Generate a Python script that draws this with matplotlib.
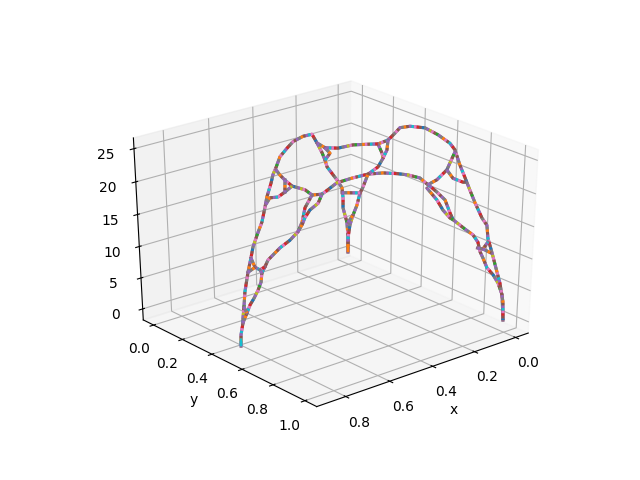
import matplotlib
matplotlib.use('Agg')
import matplotlib.pyplot as plt

# Strand values: (x, y, z)
ac_x = [.864,.862,.845,.844,.835,.825,.800,.776,.759,.728,.690,.666,.650,.618,.603,.579,.549,.495,.449,.372,.302,.263,.223,.199,.183,.101,.059,.050,.050,.016,.006,.006]
ac_y = [.499,.498,.488,.487,.482,.476,.462,.448,.438,.420,.398,.384,.375,.357,.348,.335,.317,.286,.259,.215,.174,.152,.129,.115,.106,.058,.034,.029,.029,.009,.004,.003]
ac_z = [-.1,1.7,3.3,4.0,5.6,7.8,10.4,12.2,13.6,14.9,16.3,18.1,19.5,21.1,22.1,22.9,24.0,24.5,24.8,24.5,23.8,21.9,19.8,18.3,17.0,13.7,11.8,10.0,8.4,5.5,2.7,.4]
cb1_x = [.857,.843,.833,.820,.806,.796,.793,.783,.773,.734,.703,.677,.664,.654,.632,.601,.576,.554,.507,.457,.409,.362,.330,.292,.266,.253,.237,.210,.193,.182,.142,.115,.098,.090,.080,.065,.044,.026,.011,.004]
cb1_y = [.505,.513,.519,.527,.534,.540,.542,.548,.554,.576,.594,.609,.617,.622,.635,.653,.668,.680,.707,.736,.764,.791,.809,.831,.846,.854,.863,.879,.889,.895,.918,.933,.943,.948,.954,.962,.975,.985,.994,.998]
cb1_z = [3.6,5.1,6.3,7.3,8.5,9.7,11.1,12.0,13.0,14.7,15.7,16.9,18.3,20.4,22.2,22.2,23.0,23.7,24.2,24.6,24.6,24.3,24.0,23.4,22.3,21.8,21.1,19.8,17.8,16.7,15.1,14.1,12.9,11.4,10.4,8.8,7.6,6.2,4.3,.2]
cb2_x = [.677,.664,.655,.639,.613,.601]
cb2_y = [.609,.617,.622,.631,.646,.653]
cb2_z = [16.9,17.9,18.9,20.0,20.9,22.2]
cb3_x = [.269,.236,.216,.192,.182]
cb3_y = [.845,.864,.876,.889,.895]
cb3_z = [21.8,19.9,18.3,17.0,16.7]
ab_x = [0.0]*32
ab_y = [-.005,-.005,.008,.028,.054,.074,.093,.125,.190,.222,.215,.188,.252,.296,.326,.389,.481,.561,.635,.666,.699,.732,.764,.797,.842,.873,.882,.910,.945,.965,.988,.993]
ab_z = [.2,2.6,4.9,6.7,8.6,10.8,11.9,14.3,16.1,17.8,18.5,19.7,20.9,22.4,23.5,24.3,24.9,24.6,24.0,23.3,21.3,19.7,18.1,16.5,14.6,13.8,11.9,9.9,7.2,5.7,3.0,.1]
ab2_x = [0.0,0.0,0.0]
ab2_y = [.252,.246,.222]
ab2_z = [20.9,19.3,17.8]
ab3_x = [.059,0.0]
ab3_y = [.034,.074]
ab3_z = [11.0,10.8]
ab4_x = [0.0,0.0]
ab4_y = [-.005,.028]
ab4_z = [5.2,6.7]
l1_x = [.835,.843]
l1_y = [.482,.513]
l1_z = [5.6,5.1]
l2_x = [.776,.778,.780,.783]
l2_y = [.448,.476,.511,.548]
l2_z = [12.2,11.1,11.1,12.0]
l3_x = [.800,.748]
l3_y = [.462,.432]
l3_z = [10.4,10.3]
l4_x = [.793,.799]
l4_y = [.542,.539]
l4_z = [11.1,11.6]
l5_x = [.580,.586,.593,.603,.622,.632]
l5_y = [.335,.368,.411,.469,.578,.635]
l5_z = [22.5,22.1,21.8,21.6,22.3,22.2]
l6_x = [.658,.628,.568,.518,.461]
l6_y = [.380,.362,.328,.297,.266]
l6_z = [18.5,19.0,18.2,18.1,18.2]
l7_x = [.514,.515]
l7_y = [.297,.297]
l7_z = [20.0,18.1]
l8_x = [.263,.229,.173,.109,.044,0.0]
l8_y = [.152,.157,.164,.173,.182,.188]
l8_z = [21.9,20.9,20.4,20.4,20.0,19.7]
l9_x = [.199,.159,.199]
l9_y = [.115,.092,.115]
l9_z = [20.2,18.8,18.3]
l10_x = [.266,.177,.078,.049,0.0]
l10_y = [.846,.786,.719,.700,.667]
l10_z = [22.3,21.6,21.5,22.1,23.0]
l11_x = [0.0,0.0,0.0,0.0]
l11_y = [.622,.660,.721,.739]
l11_z = [19.8,18.9,18.9,19.1]
l12_x = [0.0,0.0,0.0]
l12_y = [.822,.855,.883]
l12_z = [9.7,9.9,11.3]
l13_x = [0.0,0.0]
l13_y = [.855,.904]
l13_z = [9.9,9.8]

strands = [(ac_x,ac_y,ac_z),(cb1_x,cb1_y,cb1_z),(cb2_x,cb2_y,cb2_z),(cb3_x,cb3_y,cb3_z),
           (ab_x,ab_y,ab_z),(ab2_x,ab2_y,ab2_z),(ab3_x,ab3_y,ab3_z),(ab4_x,ab4_y,ab4_z),
           (l1_x,l1_y,l1_z),(l2_x,l2_y,l2_z),(l3_x,l3_y,l3_z),(l4_x,l4_y,l4_z),
           (l5_x,l5_y,l5_z),(l6_x,l6_y,l6_z),(l7_x,l7_y,l7_z),(l8_x,l8_y,l8_z),
           (l9_x,l9_y,l9_z),(l10_x,l10_y,l10_z),(l11_x,l11_y,l11_z),(l12_x,l12_y,l12_z),(l13_x,l13_y,l13_z)]

slots = ['C4','C5','C6','C7','C5','C3','C4','C9','C5','C6','C1','C7','C4','C2','C5','C6','C8','C4','C7','C0','C5','C3','C6','C9','C4','C5','C1','C7']
ON = 0.85
PERIOD = ON*len(slots)

fig = plt.figure(figsize=(6.4,4.8),dpi=100)
ax = fig.add_subplot(projection='3d')
ax.apply_aspect = lambda position=None: ax._set_position(ax.get_position(original=True),'active')
ax.set_box_aspect((1,1,1),zoom=.9497)
ax.view_init(29,50)
for sx,sy,sz in strands:
    ax.plot(sx,sy,sz,color='#8f6a86',lw=2.2)
    for i,c in enumerate(slots):
        ax.plot(sx,sy,sz,color=c,lw=2.2,ls=(i*ON,(ON,PERIOD-ON)))
# foot tips
ax.plot(ac_x,ac_y,ac_z,color='C9',lw=1.9,ls=(0,(3,1000)))
ax.plot(ab_x,ab_y,ab_z,color='C1',lw=1.9,ls=(0,(3,1000)))
ax.set_xlim(-.0631,.9291,view_margin=0)
ax.set_ylim(-.0729,1.0729,view_margin=0)
ax.set_zlim(-1.8,26.6,view_margin=0)
ax.set_xlabel('x')
ax.set_ylabel('y')
fig.savefig('out.png',dpi=100)
